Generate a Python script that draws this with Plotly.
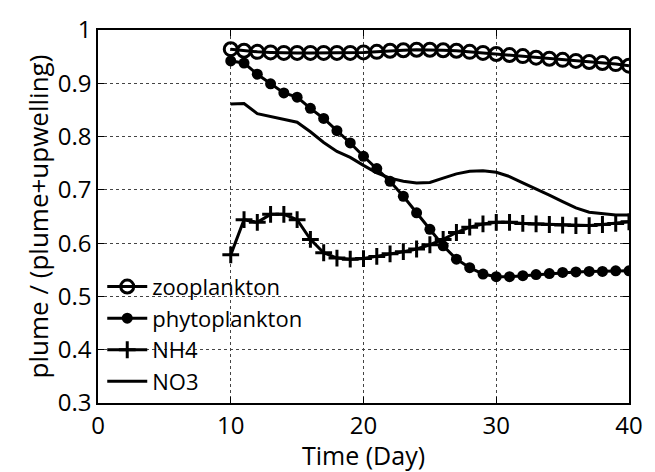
import plotly.graph_objects as go

days = list(range(10, 41))
zooplankton = [0.964, 0.961, 0.959, 0.958, 0.957, 0.957, 0.957, 0.957, 0.957, 0.957, 0.958,
               0.959, 0.961, 0.962, 0.963, 0.963, 0.962, 0.961, 0.959, 0.957, 0.955,
               0.953, 0.951, 0.948, 0.946, 0.944, 0.942, 0.940, 0.938, 0.936, 0.933]
phytoplankton = [0.942, 0.938, 0.917, 0.899, 0.882, 0.874, 0.853, 0.834, 0.811, 0.788, 0.763,
                 0.740, 0.716, 0.688, 0.657, 0.626, 0.595, 0.570, 0.554, 0.542, 0.537,
                 0.537, 0.539, 0.541, 0.543, 0.545, 0.546, 0.547, 0.547, 0.548, 0.548]
nh4 = [0.578, 0.644, 0.639, 0.654, 0.654, 0.644, 0.607, 0.582, 0.572, 0.570, 0.571,
       0.575, 0.580, 0.584, 0.589, 0.597, 0.607, 0.620, 0.630, 0.636, 0.639,
       0.639, 0.637, 0.636, 0.635, 0.634, 0.633, 0.633, 0.635, 0.637, 0.640]
no3 = [0.861, 0.862, 0.843, 0.838, 0.832, 0.827, 0.809, 0.789, 0.772, 0.761, 0.746,
       0.732, 0.722, 0.716, 0.713, 0.714, 0.722, 0.730, 0.735, 0.736, 0.733,
       0.725, 0.713, 0.702, 0.690, 0.678, 0.666, 0.658, 0.655, 0.653, 0.653]

x_ticks = [0, 10, 20, 30, 40]
y_ticks = [0.3, 0.4, 0.5, 0.6, 0.7, 0.8, 0.9, 1.0]
y_tick_labels = ["0.3", "0.4", "0.5", "0.6", "0.7", "0.8", "0.9", "1"]

FONT = "Open Sans"
fig = go.Figure()
fig.add_trace(go.Scatter(x=days, y=zooplankton, name="zooplankton", mode="lines+markers",
                         line=dict(color="black", width=3),
                         marker=dict(symbol="circle-open", size=13, color="black",
                                     line=dict(width=3, color="black"))))
fig.add_trace(go.Scatter(x=days, y=phytoplankton, name="phytoplankton", mode="lines+markers",
                         line=dict(color="black", width=3),
                         marker=dict(symbol="circle", size=11, color="black")))
fig.add_trace(go.Scatter(x=days, y=nh4, name="NH4", mode="lines+markers",
                         line=dict(color="black", width=3),
                         marker=dict(symbol="cross-thin", size=12, color="black",
                                     line=dict(width=3, color="black"))))
fig.add_trace(go.Scatter(x=days, y=no3, name="NO3", mode="lines",
                         line=dict(color="black", width=3)))

axis_common = dict(showline=True, linecolor="black", linewidth=1.5, mirror="ticks",
                   ticks="inside", ticklen=6, tickcolor="black", tickwidth=1,
                   showgrid=True, gridcolor="#444444", griddash="dot", gridwidth=1,
                   zeroline=False, tickfont=dict(family=FONT, size=24, color="black"))

fig.update_layout(
    width=655, height=472,
    margin=dict(l=98, r=19, t=20, b=66),
    paper_bgcolor="white", plot_bgcolor="white",
    font=dict(family=FONT, size=24, color="black"),
    xaxis=dict(range=[0, 40], tickvals=x_ticks,
               title=dict(text="Time (Day)", font=dict(family=FONT, size=25), standoff=2),
               **axis_common),
    yaxis=dict(range=[0.3, 1.0], tickvals=y_ticks, ticktext=y_tick_labels,
               title=dict(text="plume / (plume+upwelling)", font=dict(family=FONT, size=26), standoff=2),
               **axis_common),
    legend=dict(x=0.008, y=0.368, xanchor="left", yanchor="top",
                bgcolor="rgba(0,0,0,0)", font=dict(family=FONT, size=22, color="black"),
                tracegroupgap=0, itemwidth=40),
    showlegend=True,
)

fig.write_html("out.html")
